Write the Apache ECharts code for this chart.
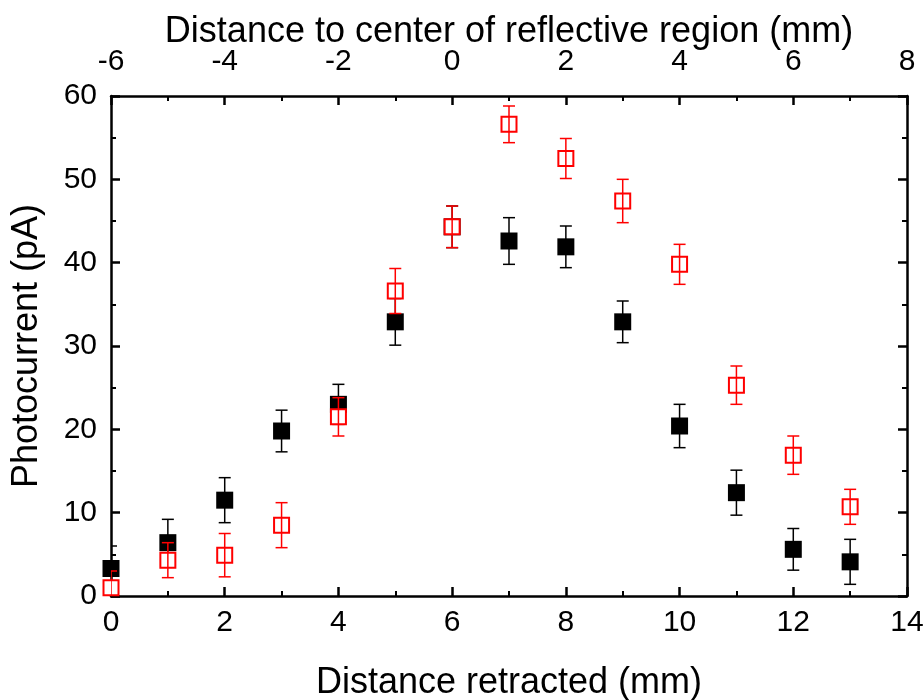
<!DOCTYPE html>
<html>
<head>
<meta charset="utf-8">
<script src="https://cdn.jsdelivr.net/npm/echarts@6/dist/echarts.min.js"></script>
<style>html,body{margin:0;padding:0;background:#fff}#c{width:924px;height:700px}</style>
</head>
<body>
<div id="c"></div>
<script>
const xs = [0,1,2,3,4,5,6,7,8,9,10,11,12,13];
const blackY = [3.3, 6.4, 11.5, 19.8, 23.0, 32.9, 44.3, 42.6, 41.9, 32.9, 20.4, 12.4, 5.6, 4.1];
const blackErr = [2.7, 2.8, 2.7, 2.5, 2.4, 2.8, 2.5, 2.8, 2.5, 2.5, 2.6, 2.7, 2.5, 2.7];
const redY = [1.0, 4.3, 4.9, 8.5, 21.5, 36.6, 44.3, 56.6, 52.5, 47.4, 39.8, 25.3, 16.9, 10.7];
const redErr = [2.0, 2.1, 2.6, 2.7, 2.3, 2.7, 2.5, 2.2, 2.4, 2.6, 2.4, 2.3, 2.3, 2.1];

const FONT = 'Liberation Sans, Arial, sans-serif';
const chart = echarts.init(document.getElementById('c'), null, {renderer: 'canvas'});

function errSeries(ys, errs, color) {
  return {
    type: 'custom',
    xAxisIndex: 0, yAxisIndex: 0,
    clip: true,
    silent: true,
    data: xs.map((x, i) => [x, ys[i], errs[i]]),
    renderItem: function (params, api) {
      const x = api.value(0), y = api.value(1), e = api.value(2);
      const top = api.coord([x, y + e]);
      const bot = api.coord([x, y - e]);
      const hw = 6;
      const style = {stroke: color, lineWidth: 1.5};
      return {
        type: 'group',
        children: [
          {type: 'line', shape: {x1: top[0], y1: top[1], x2: bot[0], y2: bot[1]}, style: style},
          {type: 'line', shape: {x1: top[0] - hw, y1: top[1], x2: top[0] + hw, y2: top[1]}, style: style},
          {type: 'line', shape: {x1: bot[0] - hw, y1: bot[1], x2: bot[0] + hw, y2: bot[1]}, style: style}
        ]
      };
    }
  };
}

const axisLine = {show: true, onZero: false, lineStyle: {color: '#000', width: 2.5}};
const tick = {show: true, inside: true, length: 9, lineStyle: {color: '#000', width: 2.5}};
const minor = {show: true, splitNumber: 2, length: 5, lineStyle: {color: '#000', width: 2}};
const labelStyle = {fontFamily: FONT, fontSize: 30, color: '#000'};
const nameStyle = {fontFamily: FONT, fontSize: 36, color: '#000'};

chart.setOption({
  animation: false,
  backgroundColor: '#fff',
  grid: {left: 111, right: 17, top: 96, bottom: 104, containLabel: false, outerBoundsMode: 'none'},
  xAxis: [
    {
      type: 'value', position: 'bottom', min: 0, max: 14, interval: 2,
      name: 'Distance retracted (mm)', nameLocation: 'middle', nameGap: 69,
      nameMoveOverlap: false,
      nameTextStyle: nameStyle,
      axisLine: axisLine, axisTick: tick, minorTick: minor,
      splitLine: {show: false},
      axisLabel: Object.assign({margin: 12}, labelStyle)
    },
    {
      type: 'value', position: 'top', min: -6, max: 8, interval: 2,
      name: 'Distance to center of reflective region (mm)', nameLocation: 'middle', nameGap: 46,
      nameMoveOverlap: false,
      nameTextStyle: nameStyle,
      axisLine: axisLine, axisTick: tick, minorTick: minor,
      splitLine: {show: false},
      axisLabel: Object.assign({margin: 19}, labelStyle)
    }
  ],
  yAxis: [
    {
      type: 'value', position: 'left', min: 0, max: 60, interval: 10,
      name: 'Photocurrent (pA)', nameLocation: 'middle', nameGap: 66,
      nameMoveOverlap: false,
      nameTextStyle: nameStyle,
      axisLine: axisLine, axisTick: tick, minorTick: minor,
      splitLine: {show: false},
      axisLabel: Object.assign({margin: 14}, labelStyle)
    },
    {
      type: 'value', position: 'right', min: 0, max: 60, interval: 10,
      axisLine: axisLine, axisTick: tick, minorTick: minor,
      splitLine: {show: false},
      axisLabel: {show: false}
    }
  ],
  series: [
    {
      type: 'scatter', xAxisIndex: 0, yAxisIndex: 0,
      symbol: 'rect', symbolSize: 17,
      itemStyle: {color: '#000', opacity: 1},
      data: xs.map((x, i) => [x, blackY[i]]),
      z: 2
    },
    errSeries(blackY, blackErr, '#000'),
    {
      type: 'scatter', xAxisIndex: 0, yAxisIndex: 0,
      symbol: 'rect', symbolSize: 15,
      itemStyle: {color: '#fff', borderColor: '#ff0000', borderWidth: 2, opacity: 1},
      data: xs.map((x, i) => [x, redY[i]]),
      z: 3
    },
    Object.assign(errSeries(redY, redErr, '#ff0000'), {z: 4})
  ]
});
</script>
</body>
</html>
